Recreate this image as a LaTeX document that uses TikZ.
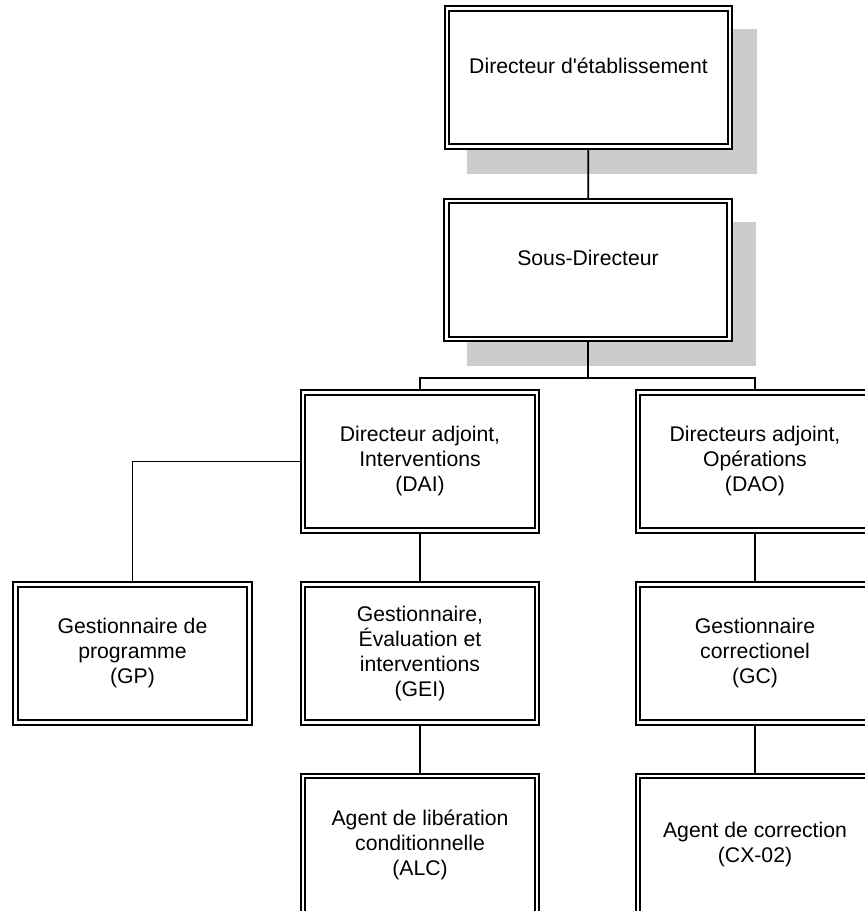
\documentclass[tikz,border=0pt]{standalone}
\usepackage{fontspec}
\setmainfont{Liberation Sans}
\usetikzlibrary{backgrounds,calc}

\tikzset{
  poste/.style={draw, double, double distance=2.8pt, line width=1.7pt, fill=white,
    outer sep=3.1pt, inner sep=0pt, minimum width=234pt, minimum height=138pt,
    align=center, font=\fontsize{21.2}{25}\selectfont},
  tete/.style={poste, minimum width=283pt, text height=15pt, text depth=24pt},
  lien/.style={line width=1.8pt},
  ombre/.style={fill=black!20},
}

\begin{document}
\begin{tikzpicture}[x=1pt, y=-1pt]
\useasboundingbox (0,0) rectangle (865,911);
\clip (0,0) rectangle (865,911);
\node[tete] (dir) at (588.5,77.5) {Directeur d\textquotesingle établissement};
\node[tete] (sd) at (588,270) {Sous-Directeur};
\node[poste] (dai) at (420,461.5) {Directeur adjoint,\\Interventions\\(DAI)};
\node[poste] (dao) at (755,461.5) {Directeurs adjoint,\\Opérations\\(DAO)};
\node[poste] (gp) at (132.5,653.5) {Gestionnaire de\\programme\\(GP)};
\node[poste] (gei) at (420,653.5) {Gestionnaire,\\Évaluation et\\interventions\\(GEI)};
\node[poste] (gc) at (755,653.5) {Gestionnaire\\correctionel\\(GC)};
\node[poste] (alc) at (420,845) {Agent de libération\\conditionnelle\\(ALC)};
\node[poste] (cx) at (755,845) {Agent de correction\\(CX-02)};
% ombres
\begin{scope}[on background layer]
\fill[ombre] ($(dir.north west)+(23.5,24)$) rectangle ($(dir.south east)+(23.5,24)$);
\fill[ombre] ($(sd.north west)+(23.5,24)$) rectangle ($(sd.south east)+(23.5,24)$);
\end{scope}
\draw[lien] (dir) -- (sd);
\draw[lien] (sd.south) -- ++(0,36) coordinate (barre);
\draw[lien] (dai.north) |- (barre) -| (dao.north);
\draw[lien] (dai.west) -| (gp.north);
\draw[lien] (dai) -- (gei);
\draw[lien] (gei) -- (alc);
\draw[lien] (dao) -- (gc);
\draw[lien] (gc) -- (cx);
\end{tikzpicture}
\end{document}
